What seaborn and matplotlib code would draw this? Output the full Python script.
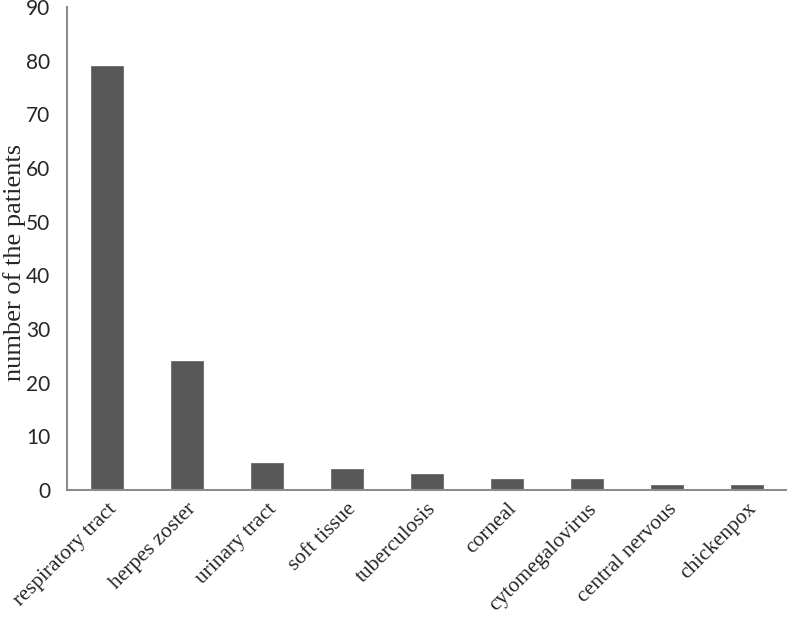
import matplotlib
matplotlib.use("Agg")
import matplotlib.pyplot as plt
import seaborn as sns
import pandas as pd
import numpy as np

# Infection sites and patient counts
sites = ["respiratory tract", "herpes zoster", "urinary tract", "soft tissue",
         "tuberculosis", "corneal", "cytomegalovirus", "central nervous", "chickenpox"]
patients = [79, 24, 5, 4, 3, 2, 2, 1, 1]
y_ticks = [0, 10, 20, 30, 40, 50, 60, 70, 80, 90]

df = pd.DataFrame({"site": sites, "patients": patients})

sns.set_style("white")
fig = plt.figure(figsize=(7.87, 6.2), dpi=100)
ax = fig.add_axes([0.085, 0.2097, 0.915, 0.779])

sns.barplot(data=df, x="site", y="patients", color="#575757", width=0.39,
            saturation=1, ax=ax, edgecolor="#6a6a6a", linewidth=0.6)

ax.set_ylim(0, 90)
ax.set_xlim(-0.5, len(sites) - 0.5)
ax.set_yticks(y_ticks)
ax.set_yticklabels([str(t) for t in y_ticks], fontfamily="Lato", fontsize=15)

ax.set_xticks(np.arange(len(sites)))
ax.set_xticklabels(sites, rotation=45, ha="right", rotation_mode="anchor",
                   fontfamily="Liberation Serif", fontsize=15.5)
ax.set_xticks(np.arange(len(sites) + 1) - 0.5, minor=True)
ax.tick_params(axis="x", which="major", length=0, pad=7)
ax.tick_params(axis="x", which="minor", length=6, width=1.2, color="#8c8c8c", direction="out")
ax.tick_params(axis="y", length=6, width=1.2, color="#8c8c8c", direction="out", pad=6)

ax.set_xlabel("")
ax.set_ylabel("number of the patients", fontfamily="Liberation Serif", fontsize=19)
ax.yaxis.set_label_coords(-0.057, 0.472)

for side in ["top", "right"]:
    ax.spines[side].set_visible(False)
for side in ["left", "bottom"]:
    ax.spines[side].set_color("#8c8c8c")
    ax.spines[side].set_linewidth(1.5)

fig.savefig("out.png", dpi=100)
